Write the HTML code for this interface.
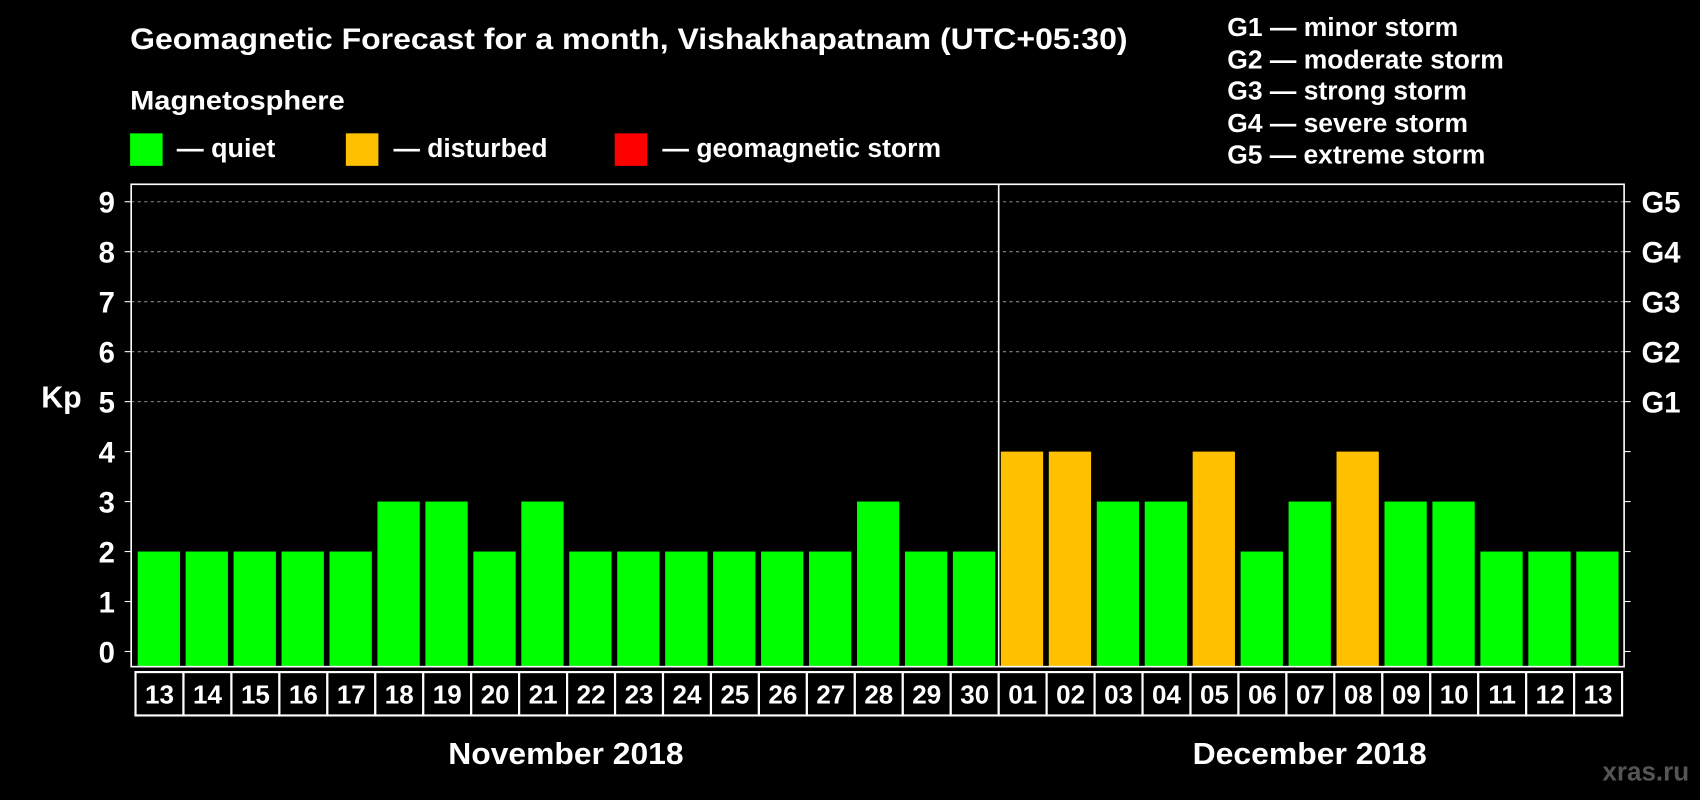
<!DOCTYPE html>
<html><head><meta charset="utf-8"><style>
html,body{margin:0;padding:0;background:#000;}
svg{display:block;font-family:"Liberation Sans",Arial,sans-serif;font-weight:bold;}
</style></head><body>
<svg id="chart" width="1700" height="800" viewBox="0 0 1568 738" preserveAspectRatio="none">
<rect x="0" y="0" width="1568" height="738" fill="#000"/>
<text x="120" y="45" fill="#fff" font-size="27" textLength="920" lengthAdjust="spacingAndGlyphs">Geomagnetic Forecast for a month, Vishakhapatnam (UTC+05:30)</text>
<text x="120" y="101" fill="#fff" font-size="25" textLength="198" lengthAdjust="spacingAndGlyphs">Magnetosphere</text>
<g><rect x="120" y="123" width="30" height="30" fill="#00ff00"/><text x="163" y="145" fill="#fff" font-size="24" textLength="91" lengthAdjust="spacingAndGlyphs">— quiet</text></g>
<g><rect x="319" y="123" width="30" height="30" fill="#ffc000"/><text x="363" y="145" fill="#fff" font-size="24" textLength="142" lengthAdjust="spacingAndGlyphs">— disturbed</text></g>
<g><rect x="567" y="123" width="30" height="30" fill="#ff0000"/><text x="611" y="145" fill="#fff" font-size="24" textLength="257" lengthAdjust="spacingAndGlyphs">— geomagnetic storm</text></g>
<g fill="#fff" font-size="24">
<text x="1132" y="33" textLength="213" lengthAdjust="spacingAndGlyphs">G1 — minor storm</text><text x="1132" y="63" textLength="255" lengthAdjust="spacingAndGlyphs">G2 — moderate storm</text><text x="1132" y="92" textLength="221" lengthAdjust="spacingAndGlyphs">G3 — strong storm</text><text x="1132" y="122" textLength="222" lengthAdjust="spacingAndGlyphs">G4 — severe storm</text><text x="1132" y="151" textLength="238" lengthAdjust="spacingAndGlyphs">G5 — extreme storm</text>
</g>
<text x="38" y="376" fill="#fff" font-size="28">Kp</text>
<g id="grid"></g><g id="bars"></g><g id="axes"></g><g id="dates"></g>
<text x="522" y="705" fill="#fff" font-size="28" text-anchor="middle" textLength="217" lengthAdjust="spacingAndGlyphs">November 2018</text>
<text x="1208" y="705" fill="#fff" font-size="28" text-anchor="middle" textLength="216" lengthAdjust="spacingAndGlyphs">December 2018</text>
<text x="1558" y="720" fill="#555" font-size="24" text-anchor="end">xras.ru</text>
</svg>
<script>
const days = ["13","14","15","16","17","18","19","20","21","22","23","24","25","26","27","28","29","30","01","02","03","04","05","06","07","08","09","10","11","12","13"];
const kpValues = [2,2,2,2,2,3,3,2,3,2,2,2,2,2,2,3,2,2,4,4,3,3,4,2,3,4,3,3,2,2,2];
const yTicks = [0,1,2,3,4,5,6,7,8,9];
const gLabels = ["G1","G2","G3","G4","G5"];
const NS="http://www.w3.org/2000/svg";
const plotLeft=121,plotRight=1498,plotTop=170,plotBottom=615,x0=125,step=44.23,bw=39;
const yScale=v=>601-v*46.1;
const xScale=i=>x0+i*step;
function mk(t,a,p){const e=document.createElementNS(NS,t);for(const k in a)e.setAttribute(k,a[k]);p.appendChild(e);return e;}
const grid=document.getElementById('grid'),bars=document.getElementById('bars'),axes=document.getElementById('axes'),dates=document.getElementById('dates');
yTicks.forEach(v=>{
  if(v>=5){const l=mk('line',{x1:plotLeft,x2:plotRight,y1:yScale(v),y2:yScale(v),stroke:'#888','stroke-dasharray':'3,3','stroke-width':1},grid);
  
  }
  mk('line',{x1:plotLeft-6,x2:plotLeft,y1:yScale(v),y2:yScale(v),stroke:'#fff'},axes);
  mk('line',{x1:plotRight,x2:plotRight+6,y1:yScale(v),y2:yScale(v),stroke:'#fff'},axes);
  const t=mk('text',{x:106,y:yScale(v)+10,fill:'#fff','font-size':27,'text-anchor':'end'},axes);t.textContent=v;
  
  
  if(v>=5){const g=mk('text',{x:1514,y:yScale(v)+10,fill:'#fff','font-size':27},axes);g.textContent=gLabels[v-5];
  
  }
});
kpValues.forEach((v,i)=>{
  const c=v>=5?'#ff0000':(v>=4?'#ffc000':'#00ff00');
  const r=mk('rect',{x:xScale(i)+2,y:yScale(v),width:bw,height:plotBottom-yScale(v),fill:c},bars);
  
  
  const cell=mk('rect',{x:xScale(i),y:620,width:step,height:40,fill:'#000',stroke:'#fff','stroke-width':2},dates);
  
  
  const t=mk('text',{x:xScale(i)+step/2,y:649,fill:'#fff','font-size':24,'text-anchor':'middle'},dates);t.textContent=days[i];
  
  
});
const frame=mk('rect',{x:plotLeft,y:plotTop,width:plotRight-plotLeft,height:plotBottom-plotTop,fill:'none',stroke:'#fff','stroke-width':1.5},axes);


const sepIdx=days.indexOf("01");
const sep=mk('line',{x1:xScale(sepIdx),x2:xScale(sepIdx),y1:plotTop,y2:plotBottom,stroke:'#fff','stroke-width':1.5},axes);


</script>
</body></html>
